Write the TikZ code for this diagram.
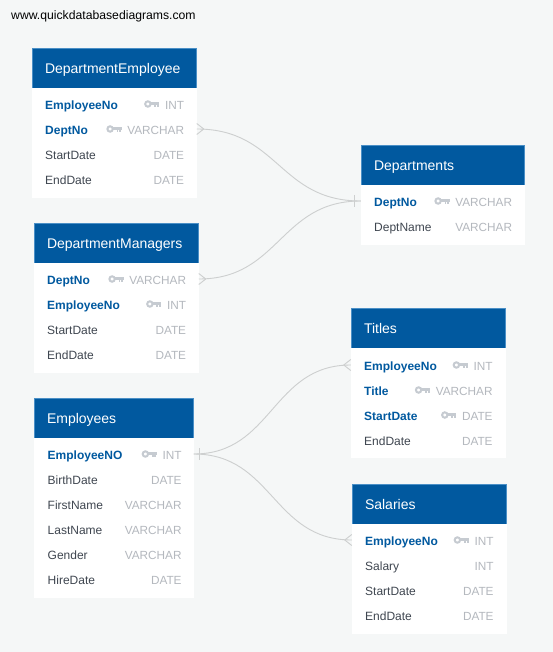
\documentclass[tikz,border=0pt]{standalone}
\usepackage{fontspec}
\setmainfont{Liberation Sans}
\usepackage{tikz}
\usetikzlibrary{positioning,calc}

\definecolor{pagebg}{HTML}{F5F7F7}
\definecolor{headblue}{HTML}{01599F}
\definecolor{headedge}{HTML}{4A8FC6}
\definecolor{nametext}{HTML}{3F4650}
\definecolor{typetext}{HTML}{B4B8BE}
\definecolor{keygrey}{HTML}{C6CBD1}
\definecolor{relgrey}{HTML}{CDCFCF}

\tikzset{
  tablehead/.style={draw=headedge, line width=0.5pt, fill=headblue, text=white, anchor=north west,
    minimum height=40pt, text width=#1-26.5pt, inner xsep=13pt, inner ysep=0pt, outer sep=0pt,
    text height=12.4pt, text depth=2pt, align=left, font=\fontsize{14}{16}\selectfont},
  tablebody/.style={fill=white, minimum width=#1, inner sep=0pt, outer sep=0pt},
  colname/.style={anchor=base west, inner sep=0pt, text=nametext, font=\fontsize{12}{14}\selectfont},
  keyname/.style={colname, text=headblue, font=\fontsize{12}{14}\selectfont\bfseries},
  coltype/.style={anchor=base east, inner sep=0pt, text=typetext, font=\fontsize{11.8}{14}\selectfont},
  relline/.style={draw=relgrey, line width=0.9pt},
  keyicon/.pic={
    \draw[keygrey, line width=2pt] (-11.5,0) circle (2.7);
    \fill[keygrey] (-9,-1.7) rectangle (0,1.2);
    \fill[keygrey] (-5,1) rectangle (-3.2,3.4);
    \fill[keygrey] (-2.4,1) rectangle (-0.4,3.4);
  }
}

% plain column: prefix, left x, right x, row y, name, type
\newcommand{\colrow}[6]{
  \node[colname] (#1#5) at (#2, #4+5.2) {#5};
  \node[coltype] (#1#5T) at (#3+0.8, #4+5.2) {#6};
}
% key column: same arguments
\newcommand{\keyrow}[6]{
  \node[keyname] (#1#5) at (#2, #4+5.2) {#5};
  \node[coltype] (#1#5T) at (#3+0.8, #4+5.2) {#6};
  \pic at ([xshift=-5.5pt, yshift=5.2pt]#1#5T.base west) {keyicon};
}

\begin{document}
\begin{tikzpicture}[x=1pt, y=-1pt]
\fill[pagebg] (0,0) rectangle (553,652);
\useasboundingbox (0,0) rectangle (553,652);

\node[anchor=base west, inner sep=0pt, font=\fontsize{12.2}{14}\selectfont] (siteText) at (11,20) {www.quickdatabasediagrams.com};

% DepartmentEmployee
\node[tablehead=165pt] (deHead) at (32,48) {DepartmentEmployee};
\node[tablebody=165pt, minimum height=110pt, below=0pt of deHead] (deBody) {};
\keyrow{de}{45}{183.5}{104}{EmployeeNo}{INT}
\keyrow{de}{45}{183.5}{129}{DeptNo}{VARCHAR}
\colrow{de}{45}{183.5}{154}{StartDate}{DATE}
\colrow{de}{45}{183.5}{179}{EndDate}{DATE}

% DepartmentManagers
\node[tablehead=165pt] (dmHead) at (34,223) {DepartmentManagers};
\node[tablebody=165pt, minimum height=110pt, below=0pt of dmHead] (dmBody) {};
\keyrow{dm}{47}{185.5}{279}{DeptNo}{VARCHAR}
\keyrow{dm}{47}{185.5}{304}{EmployeeNo}{INT}
\colrow{dm}{47}{185.5}{329}{StartDate}{DATE}
\colrow{dm}{47}{185.5}{354}{EndDate}{DATE}

% Employees
\node[tablehead=160pt] (emHead) at (34,398) {Employees};
\node[tablebody=160pt, minimum height=160pt, below=0pt of emHead] (emBody) {};
\keyrow{em}{47.5}{181}{454}{EmployeeNO}{INT}
\colrow{em}{47.5}{181}{479}{BirthDate}{DATE}
\colrow{em}{47.5}{181}{504}{FirstName}{VARCHAR}
\colrow{em}{47.5}{181}{529}{LastName}{VARCHAR}
\colrow{em}{47.5}{181}{554}{Gender}{VARCHAR}
\colrow{em}{47.5}{181}{579}{HireDate}{DATE}

% Departments
\node[tablehead=164pt] (dpHead) at (361,145) {Departments};
\node[tablebody=164pt, minimum height=60pt, below=0pt of dpHead] (dpBody) {};
\keyrow{dp}{374}{511.5}{201}{DeptNo}{VARCHAR}
\colrow{dp}{374}{511.5}{226}{DeptName}{VARCHAR}

% Titles
\node[tablehead=155pt] (tiHead) at (351,308) {Titles};
\node[tablebody=155pt, minimum height=110pt, below=0pt of tiHead] (tiBody) {};
\keyrow{ti}{364}{492}{365}{EmployeeNo}{INT}
\keyrow{ti}{364}{492}{390}{Title}{VARCHAR}
\keyrow{ti}{364}{492}{415}{StartDate}{DATE}
\colrow{ti}{364}{492}{440}{EndDate}{DATE}

% Salaries
\node[tablehead=155pt] (saHead) at (352,484) {Salaries};
\node[tablebody=155pt, minimum height=110pt, below=0pt of saHead] (saBody) {};
\keyrow{sa}{365}{493}{540}{EmployeeNo}{INT}
\colrow{sa}{365}{493}{565}{Salary}{INT}
\colrow{sa}{365}{493}{590}{StartDate}{DATE}
\colrow{sa}{365}{493}{615}{EndDate}{DATE}

% Connector ends on the table edges
\coordinate (deFk) at (deBody.east |- 0,129);
\coordinate (dmFk) at (dmBody.east |- 0,279);
\coordinate (dpPk) at (dpBody.west |- 0,201);
\coordinate (emPk) at (emBody.east |- 0,454);
\coordinate (tiFk) at (tiBody.west |- 0,365);
\coordinate (saFk) at (saBody.west |- 0,540);

% Relationships
\draw[relline] (deFk) .. controls +(82,0) and +(-82,0) .. (dpPk);
\draw[relline] (dmFk) .. controls +(81,0) and +(-81,0) .. (dpPk);
\draw[relline] (emPk) .. controls +(79,0) and +(-79,0) .. (tiFk);
\draw[relline] (emPk) .. controls +(79,0) and +(-79,0) .. (saFk);

% Crow feet
\draw[relline] (deFk) ++(0,-5.5) -- ++(7,5.5) -- ++(-7,5.5);
\draw[relline] (dmFk) ++(0,-5.5) -- ++(7,5.5) -- ++(-7,5.5);
\draw[relline] (tiFk) ++(0,-5.5) -- ++(-7,5.5) -- ++(7,5.5);
\draw[relline] (saFk) ++(0,-5.5) -- ++(-7,5.5) -- ++(7,5.5);

% Single bars
\draw[relline] (dpPk) ++(-6.5,-6) -- ++(0,12);
\draw[relline] (emPk) ++(6,-6) -- ++(0,12);
\end{tikzpicture}
\end{document}
